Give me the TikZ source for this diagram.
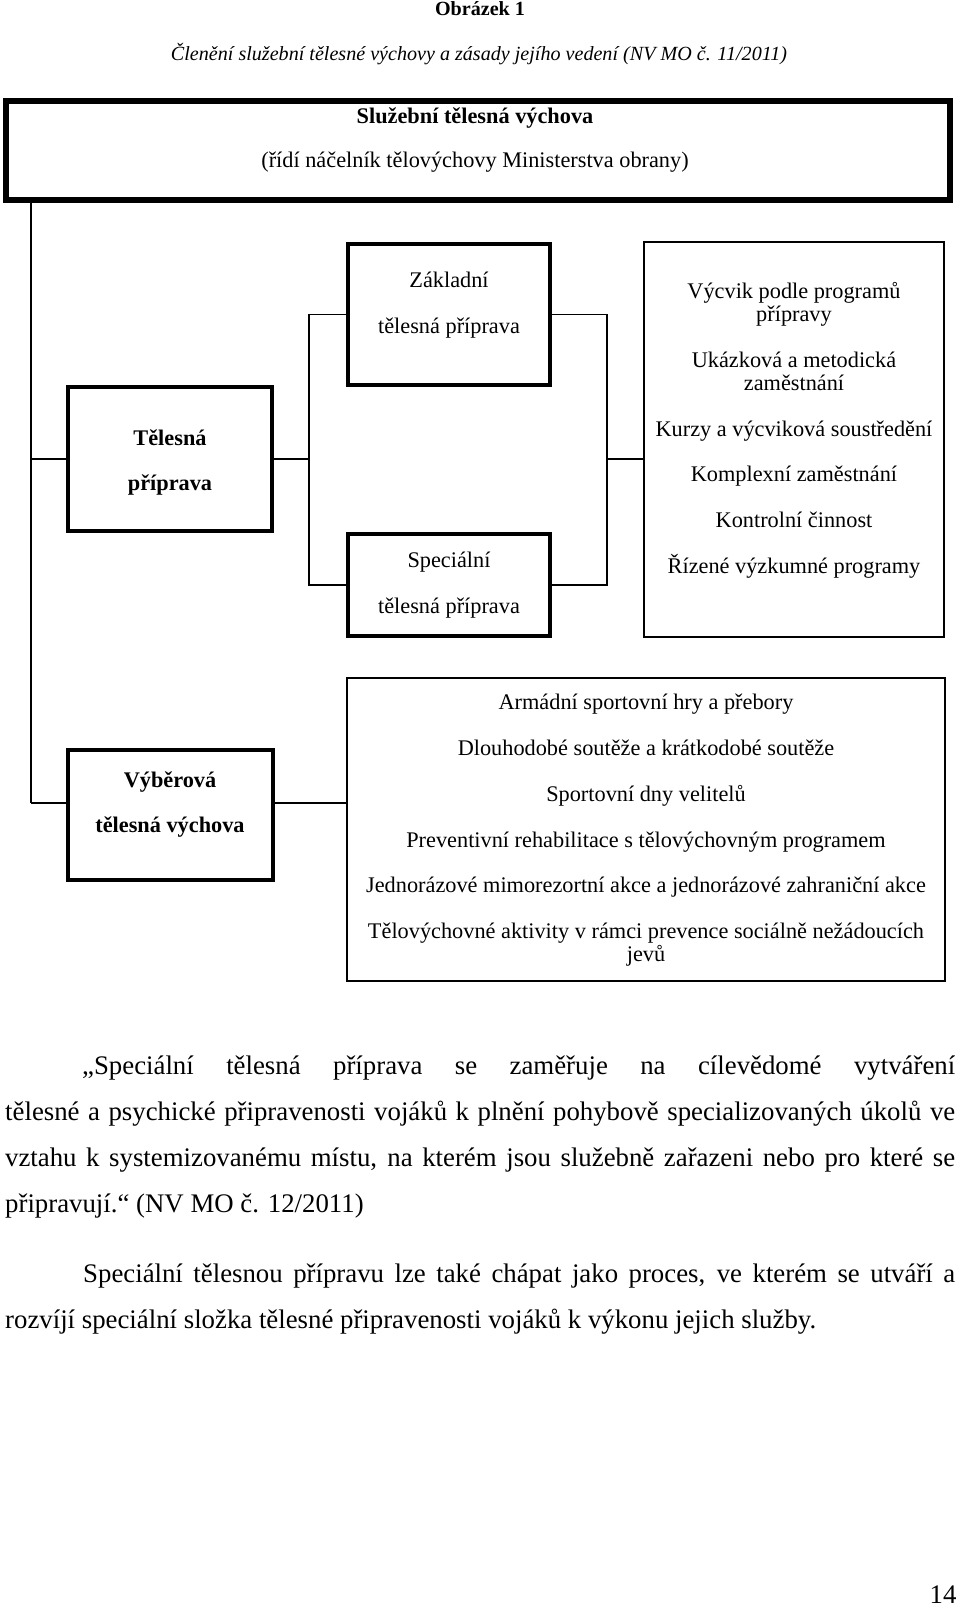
\documentclass[tikz,border=0pt]{standalone}
\usepackage{fontspec}
\setmainfont{Liberation Serif}
\begin{document}
\begin{tikzpicture}[x=1pt,y=-1pt,
  dtxt/.style={inner sep=0pt, anchor=base, font=\fontsize{22.3}{25}\selectfont},
  dbold/.style={inner sep=0pt, anchor=base, font=\fontsize{22.3}{25}\selectfont\bfseries},
  heavybox/.style={draw=black, line width=6pt, inner sep=0pt},
  thickbox/.style={draw=black, line width=4pt, inner sep=0pt},
  thinbox/.style={draw=black, line width=1.5pt, inner sep=0pt},
  conn/.style={draw=black, line width=1.3pt},
  bodypar/.style={anchor=base west, inner sep=0pt, text width=950pt, align=justify,
    font=\fontsize{26.8}{46}\selectfont}]
\fill[white] (0,0) rectangle (960,1610);
\useasboundingbox (0,0) rectangle (960,1610);

% headings
\node[inner sep=0pt, anchor=base, font=\fontsize{20.1}{22}\selectfont\bfseries] (obr) at (480,15) {Obrázek 1};
\node[inner sep=0pt, anchor=base, font=\fontsize{20.1}{22}\selectfont\itshape] (cap) at (479,60) {Členění služební tělesné výchovy a zásady jejího vedení (NV MO č. 11/2011)};

% top box
\node[heavybox, minimum width=944pt, minimum height=99pt] (top) at (478,150.5) {};
\node[dbold] (topa) at (475,123) {Služební tělesná výchova};
\node[dtxt] (topb) at (475,167) {(řídí náčelník tělovýchovy Ministerstva obrany)};

% Tělesná příprava
\node[thickbox, minimum width=204pt, minimum height=144pt] (tp) at (170,459) {};
\node[dbold] (tpa) at (170,445) {Tělesná};
\node[dbold] (tpb) at (170,490) {příprava};

% Základní
\node[thickbox, minimum width=202pt, minimum height=141pt] (zak) at (449,314.5) {};
\node[dtxt] (zaka) at (449,287) {Základní};
\node[dtxt] (zakb) at (449,333) {tělesná příprava};

% Speciální
\node[thickbox, minimum width=202pt, minimum height=102pt] (spe) at (449,585) {};
\node[dtxt] (spea) at (449,567) {Speciální};
\node[dtxt] (speb) at (449,613) {tělesná příprava};

% list box 1
\node[thinbox, minimum width=300pt, minimum height=395pt] (lb1) at (794,439.5) {};
\node[dtxt] (l1a) at (794,298) {Výcvik podle programů};
\node[dtxt] (l1b) at (794,321) {přípravy};
\node[dtxt] (l1c) at (794,367) {Ukázková a metodická};
\node[dtxt] (l1d) at (794,390) {zaměstnání};
\node[dtxt] (l1e) at (794,436) {Kurzy a výcviková soustředění};
\node[dtxt] (l1f) at (794,481) {Komplexní zaměstnání};
\node[dtxt] (l1g) at (794,527) {Kontrolní činnost};
\node[dtxt] (l1h) at (794,573) {Řízené výzkumné programy};

% Výběrová
\node[thickbox, minimum width=205pt, minimum height=130pt] (vt) at (170.5,815) {};
\node[dbold] (vta) at (170,787) {Výběrová};
\node[dbold] (vtb) at (170,832) {tělesná výchova};

% list box 2
\node[thinbox, minimum width=598pt, minimum height=303pt] (lb2) at (646,829.5) {};
\node[dtxt] (l2a) at (646,709) {Armádní sportovní hry a přebory};
\node[dtxt] (l2b) at (646,755) {Dlouhodobé soutěže a krátkodobé soutěže};
\node[dtxt] (l2c) at (646,801) {Sportovní dny velitelů};
\node[dtxt] (l2d) at (646,847) {Preventivní rehabilitace s tělovýchovným programem};
\node[dtxt] (l2e) at (646,892) {Jednorázové mimorezortní akce a jednorázové zahraniční akce};
\node[dtxt] (l2f) at (646,938) {Tělovýchovné aktivity v rámci prevence sociálně nežádoucích};
\node[dtxt] (l2g) at (646,961) {jevů};

% connectors
\coordinate (sp) at (31,803);
\coordinate (j1) at (309,459);
\coordinate (j2) at (607,459);
\draw[conn] (top.south -| sp) -- (sp);
\draw[conn] (tp.west -| sp) -- (tp.west);
\draw[conn] (sp) -- (sp -| vt.west);
\draw[conn] (vt.east |- sp) -- (sp -| lb2.west);
\draw[conn] (tp.east) -- (j1);
\draw[conn] (zak.west) -| (j1) |- (spe.west);
\draw[conn] (zak.east) -| (j2) |- (spe.east);
\draw[conn] (j2) -- (j2 -| lb1.west);

% body text
\node[bodypar] (para1) at (5,1074) {\tolerance=10000\hbadness=10000\hyphenpenalty=10000\hspace*{77pt}„Speciální tělesná příprava se zaměřuje na cílevědomé vytváření\linebreak tělesné a psychické připravenosti vojáků k plnění pohybově specializovaných úkolů ve\linebreak vztahu k systemizovanému místu, na kterém jsou služebně zařazeni nebo pro které se\linebreak připravují.“ (NV MO č. 12/2011)};
\node[bodypar] (para2) at (5,1282) {\tolerance=10000\hbadness=10000\hyphenpenalty=10000\hspace*{78pt}Speciální tělesnou přípravu lze také chápat jako proces, ve kterém se utváří a\linebreak rozvíjí speciální složka tělesné připravenosti vojáků k výkonu jejich služby.};

\node[inner sep=0pt, anchor=base, font=\fontsize{26.8}{30}\selectfont] (pg) at (943,1603) {14};
\end{tikzpicture}
\end{document}
